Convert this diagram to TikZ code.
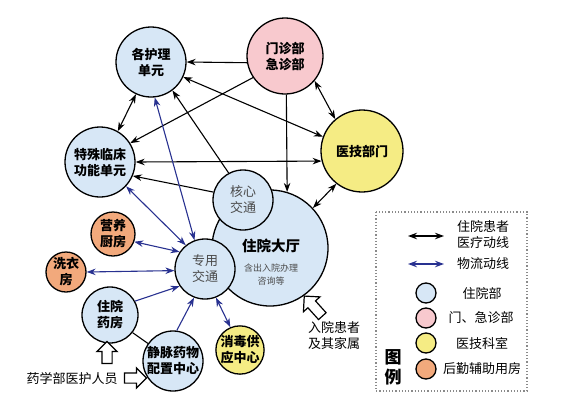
\documentclass[tikz,border=0pt]{standalone}
\usepackage{fontspec}
\setmainfont{Noto Sans CJK SC}
\usepackage{xcolor}
\usetikzlibrary{arrows.meta, shapes.arrows}
\definecolor{WardFill}   {HTML}{D7E7F6}
\definecolor{ClinicFill} {HTML}{F8C9CE}
\definecolor{TechFill}   {HTML}{F5EC84}
\definecolor{SupportFill}{HTML}{F2A97C}
\definecolor{GoodsBlue}  {HTML}{283190}
\definecolor{SoftText}   {HTML}{4A4A4A}
\definecolor{KeyGray}    {HTML}{8A8A8A}
\tikzset{
  unit/.style={
    circle, draw, line width=1.3pt, align=center, inner sep=0pt,
    font=\fontsize{13}{16}\selectfont\bfseries,
  },
  wardunit/.style   ={unit, fill=WardFill},
  clinicunit/.style ={unit, fill=ClinicFill},
  techunit/.style   ={unit, fill=TechFill},
  supportunit/.style={unit, fill=SupportFill},
  passunit/.style   ={wardunit, font=\fontsize{13}{16}\selectfont, text=SoftText},
  care/.style={
    {Stealth[length=9pt,width=6.5pt]}-{Stealth[length=9pt,width=6.5pt]},
    line width=1.1pt,
  },
  careone/.style={-{Stealth[length=9pt,width=6.5pt]}, line width=1.1pt},
  goods/.style={
    {Stealth[length=9pt,width=6.5pt]}-{Stealth[length=9pt,width=6.5pt]},
    color=GoodsBlue, line width=1.1pt,
  },
  goodsone/.style={-{Stealth[length=9pt,width=6.5pt]}, color=GoodsBlue, line width=1.1pt},
  entry/.style={
    single arrow, draw, fill=white, line width=1.2pt,
    inner xsep=0pt, inner ysep=4.5pt, single arrow head extend=5pt,
    minimum height=22pt,
  },
  keytext/.style={font=\fontsize{13}{16}\selectfont, align=center},
}
\newcommand{\hallnote}[1]{{\fontsize{9}{11}\selectfont\mdseries\color{SoftText}#1}}

\begin{document}
\begin{tikzpicture}[x=1pt, y=-1pt]
\useasboundingbox (0,0) rectangle (567,407);

% ── Nodes ─────────────────────────────────────────────────────────────────
% pixel grid of the sheet, y grows downwards
\node[wardunit,    minimum size=70pt]  (HL) at (151, 62) {各护理\\单元};
\node[clinicunit,  minimum size=76pt]  (MZ) at (285, 56) {门诊部\\急诊部};
\node[techunit,    minimum size=82pt]  (YJ) at (362,151) {医技部门};
\node[wardunit,    minimum size=70pt]  (TS) at (100,162) {特殊临床\\功能单元};
% hall first, the two traffic cores sit on top of it
\node[wardunit,    minimum size=116pt] (DT) at (270,248) {};
\node[font=\fontsize{14.5}{18}\selectfont\bfseries, align=center] (DTtxt) at (271,262)
  {住院大厅\\[2pt]\hallnote{含出入院办理}\\[-5pt]\hallnote{咨询等}};
\node[passunit,    minimum size=60pt]  (HX) at (243,200) {核心\\交通};
\node[passunit,    minimum size=60pt]  (ZY) at (205,269) {专用\\交通};
\node[supportunit, minimum size=44pt]  (YY) at (113,234) {营养\\厨房};
\node[supportunit, minimum size=40pt]  (XY) at ( 66,272) {洗衣\\房};
\node[wardunit,    minimum size=56pt]  (YF) at (110,315) {住院\\药房};
\node[wardunit,    minimum size=60pt]  (JM) at (173,361) {静脉药物\\配置中心};
\node[techunit,    minimum size=46pt]  (XD) at (240,350) {消毒供\\应中心};

% ── Patient flow ──────────────────────────────────────────────────────────
\draw[careone] (MZ.190) -- (HL.east);
\draw[careone] (MZ.214) -- (TS.32);
\draw[careone] (MZ.272) -- (DT.73);
\draw[care]    (MZ.320) -- (YJ.130);
\draw[care]    (HL.335) -- (YJ.160);
\draw[care]    (HL.245) -- (TS.60);
\draw[care]    (TS.east) -- (YJ.194);
\draw[careone] (HX.165) -- (TS.337);
\draw[careone] (HX.118) -- (HL.307);
\draw[care]    (DT.43) -- (YJ.232);
\draw[line width=1.1pt] (YF.322) -- (JM.145);

% ── Goods flow ────────────────────────────────────────────────────────────
\draw[goods]    (HL.276) -- (ZY.110);
\draw[goods]    (TS.317) -- (ZY.129);
\draw[goods]    (YY.340) -- (ZY.146);
\draw[goods]    (XY.east) -- (ZY.183);
\draw[goodsone] (YF.29) -- (ZY.214);
\draw[goodsone] (JM.83) -- (ZY.249);
\draw[goods]    (ZY.291) -- (XD.113);

% ── Entrances ─────────────────────────────────────────────────────────────
\node[entry, rotate=90] (IN1) at (107,355) {};
\node[entry] (IN2) at (133,378) {};
\node[font=\fontsize{13}{16}\selectfont] (IN2txt) at (72,379) {药学部医护人员};
\node[entry, rotate=132, minimum height=27pt, single arrow head extend=6pt] (IN3) at (315,308) {};
\node[keytext] (IN3txt) at (334,336) {入院患者\\及其家属};

% ── Legend ────────────────────────────────────────────────────────────────
\draw[KeyGray, dotted, line width=1.2pt] (376,212) rectangle (527,391);
\node[font=\fontsize{17}{20}\selectfont\bfseries, align=center] (KEY) at (393,367) {图\\例};
\coordinate (K1a) at (408,236);
\coordinate (K1b) at (444,236);
\coordinate (K2a) at (408,264);
\coordinate (K2b) at (444,264);
\draw[care]  (K1a) -- (K1b);
\draw[goods] (K2a) -- (K2b);
\node[keytext] (K1) at (483,235) {住院患者\\医疗动线};
\node[keytext] (K2) at (483,264) {物流动线};
\node[wardunit,    minimum size=20pt] (K3c) at (426,293) {};
\node[clinicunit,  minimum size=20pt] (K4c) at (426,318) {};
\node[techunit,    minimum size=20pt] (K5c) at (426,343) {};
\node[supportunit, minimum size=20pt] (K6c) at (426,369) {};
\node[keytext] (K3) at (482,293) {住院部};
\node[keytext] (K4) at (481,318) {门、急诊部};
\node[keytext] (K5) at (482,343) {医技科室};
\node[keytext] (K6) at (482,369) {后勤辅助用房};

\end{tikzpicture}
\end{document}
